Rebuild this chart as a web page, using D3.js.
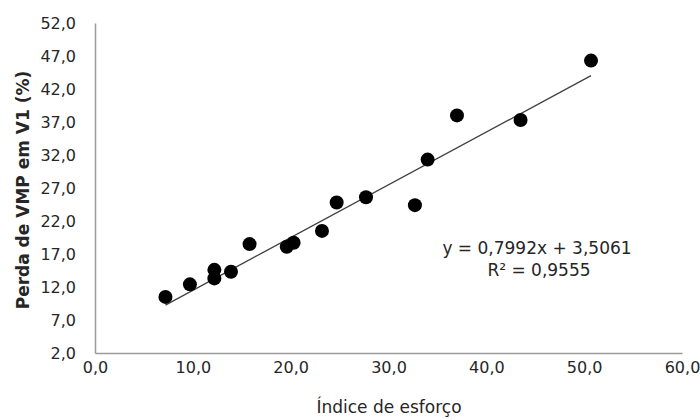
<!DOCTYPE html>
<html>
<head>
<meta charset="utf-8">
<script src="https://cdn.jsdelivr.net/npm/d3@7"></script>
<style>
  body { margin: 0; background: #fff; }
  .tick text { font-family: "DejaVu Sans", sans-serif; font-size: 16px; fill: #262626; }
  .aText { font-family: "DejaVu Sans", sans-serif; fill: #262626; }
</style>
</head>
<body>
<div id="scatter"></div>
<script>
// data
var esforco = [7.2, 9.7, 12.2, 12.2, 13.9, 15.8, 19.6, 20.3, 23.2, 24.7, 27.7, 32.7, 34.0, 37.0, 43.5, 50.7];
var perdaVMP = [10.5, 12.4, 14.6, 13.3, 14.3, 18.5, 18.1, 18.7, 20.5, 24.8, 25.6, 24.4, 31.3, 38.0, 37.3, 46.3];
var xTicks = [0, 10, 20, 30, 40, 50, 60];
var yTicks = [2, 7, 12, 17, 22, 27, 32, 37, 42, 47, 52];
var slope = 0.7992, intercept = 3.5061;
var eqLabel = "y = 0,7992x + 3,5061";
var r2Label = "R² = 0,9555";

var svgWidth = 700;
var svgHeight = 419;

var chartMargin = { top: 23, right: 18, bottom: 66, left: 95 };
var chartWidth = svgWidth - chartMargin.left - chartMargin.right;
var chartHeight = svgHeight - chartMargin.top - chartMargin.bottom;

var svg = d3.select("#scatter")
  .append("svg")
  .attr("width", svgWidth)
  .attr("height", svgHeight);

var chartGroup = svg.append("g")
  .attr("transform", `translate(${chartMargin.left}, ${chartMargin.top})`);

var data = esforco.map(function(x, i) { return { x: x, y: perdaVMP[i] }; });

var xLinearScale = d3.scaleLinear().domain([0, 60]).range([0, chartWidth]);
var yLinearScale = d3.scaleLinear().domain([2, 52]).range([chartHeight, 0]);

var fmt = function(d) { return d.toFixed(1).replace(".", ","); };

var bottomAxis = d3.axisBottom(xLinearScale).tickValues(xTicks).tickFormat(fmt).tickSize(0).tickPadding(9);
var leftAxis = d3.axisLeft(yLinearScale).tickValues(yTicks).tickFormat(fmt).tickSize(0).tickPadding(19);

var yAxisG = chartGroup.append("g").call(leftAxis);
var xAxisG = chartGroup.append("g")
  .attr("transform", `translate(0, ${chartHeight})`)
  .call(bottomAxis);

[xAxisG, yAxisG].forEach(function(g) {
  g.select(".domain").attr("stroke", "#9a9a9a").attr("stroke-width", 1.5);
});
yAxisG.selectAll(".tick text").attr("dy", "0.35em");

// trend line over the data range
var xExt = d3.extent(esforco);
chartGroup.append("line")
  .attr("x1", xLinearScale(xExt[0]))
  .attr("y1", yLinearScale(slope * xExt[0] + intercept))
  .attr("x2", xLinearScale(xExt[1]))
  .attr("y2", yLinearScale(slope * xExt[1] + intercept))
  .attr("stroke", "#404040")
  .attr("stroke-width", 1.3);

chartGroup.selectAll("circle")
  .data(data)
  .enter()
  .append("circle")
  .attr("cx", d => xLinearScale(d.x))
  .attr("cy", d => yLinearScale(d.y))
  .attr("r", 7)
  .attr("fill", "#000");

chartGroup.append("text")
  .attr("class", "aText")
  .attr("x", 537 - chartMargin.left)
  .attr("y", 254 - chartMargin.top)
  .attr("text-anchor", "middle")
  .attr("font-size", "17px")
  .text(eqLabel);

chartGroup.append("text")
  .attr("class", "aText")
  .attr("x", 539 - chartMargin.left)
  .attr("y", 276 - chartMargin.top)
  .attr("text-anchor", "middle")
  .attr("font-size", "17px")
  .text(r2Label);

chartGroup.append("text")
  .attr("transform", "rotate(-90)")
  .attr("x", 0 - (190 - chartMargin.top))
  .attr("y", 29 - chartMargin.left)
  .attr("text-anchor", "middle")
  .attr("class", "aText")
  .attr("font-size", "17px")
  .attr("font-weight", "bold")
  .text("Perda de VMP em V1 (%)");

chartGroup.append("text")
  .attr("x", 389 - chartMargin.left)
  .attr("y", 413 - chartMargin.top)
  .attr("text-anchor", "middle")
  .attr("class", "aText")
  .attr("font-size", "17px")
  .text("Índice de esforço");
</script>
</body>
</html>
